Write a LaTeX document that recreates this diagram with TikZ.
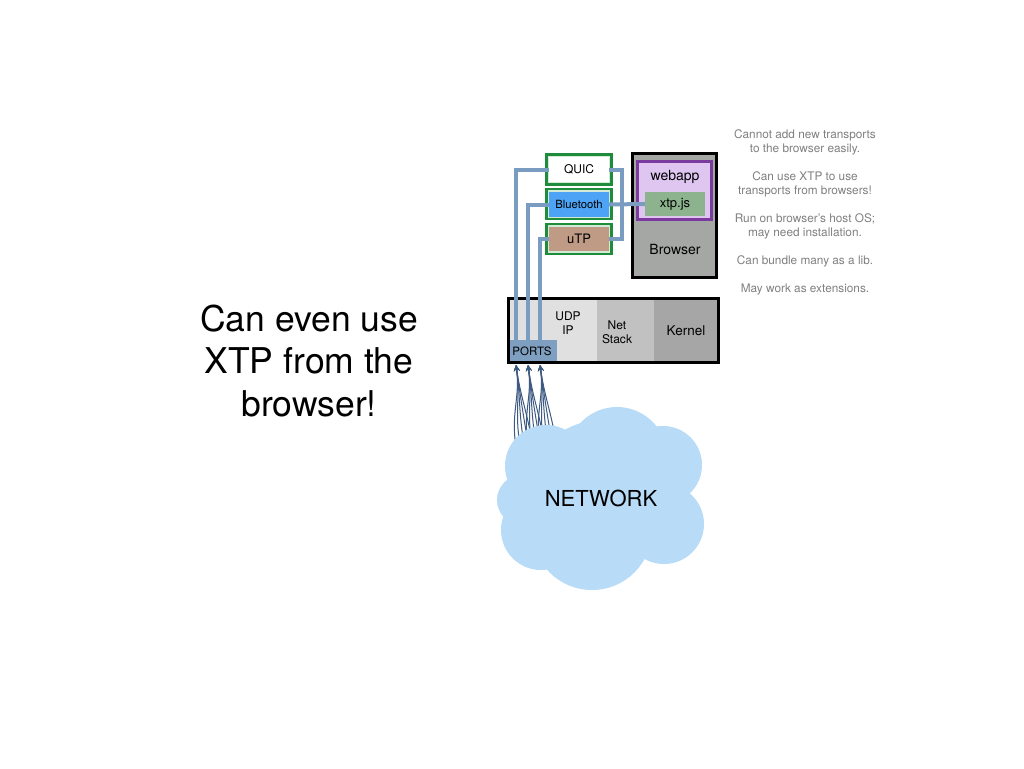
\documentclass[tikz,border=0pt]{standalone}
\usepackage{fontspec}
\setmainfont{TeX Gyre Heros}
\usetikzlibrary{positioning,arrows.meta}

\definecolor{linkblue}{HTML}{7A9CC0}
\definecolor{arrowblue}{HTML}{3D5A82}
\definecolor{tgreen}{HTML}{1E8C3A}
\definecolor{palegreen}{HTML}{D3EBD6}
\definecolor{btblue}{HTML}{4DA3F5}
\definecolor{utpbrown}{HTML}{BF9A84}
\definecolor{browsergray}{HTML}{A5A7A5}
\definecolor{webpurple}{HTML}{7A3A9E}
\definecolor{lightpurple}{HTML}{DFC6F0}
\definecolor{jsgreen}{HTML}{8DB38E}
\definecolor{udpgray}{HTML}{E0E0E0}
\definecolor{stackgray}{HTML}{C1C1C1}
\definecolor{kernelgray}{HTML}{A6A6A6}
\definecolor{portsblue}{HTML}{7F9FC0}
\definecolor{cloudblue}{HTML}{B8DBF7}
\definecolor{notegray}{HTML}{808080}

\begin{document}
\begin{tikzpicture}[x=1pt,y=-1pt]
    \useasboundingbox[fill=white] (0,0) rectangle (1024,768);
    \begin{scope}[outer/.style={draw=tgreen,fill=palegreen,line width=2.5pt,minimum width=65pt,minimum height=30pt,inner sep=0pt},
                  inner/.style={minimum width=60pt,minimum height=25pt,inner sep=0pt},
                  seg/.style={minimum height=64pt,inner sep=0pt},
                  link/.style={draw=linkblue,line width=4pt},
                  net/.style={draw=arrowblue,line width=1pt,-{Stealth[length=6pt,width=6pt]}},
                  sz/.style={font=\fontsize{#1}{#1}\selectfont},
                  lines/.style 2 args={font=\fontsize{#1}{#2}\selectfont, align=center}]
        \node[lines={35.5}{42.5}] (title) at (309, 361) {Can even use\\XTP from the\\browser!};
        \node[lines={11.8}{14}, text=notegray] (notes) at (805, 212.5) {%
            Cannot add new transports\\to the browser easily.\\[14pt]
            Can use XTP to use\\transports from browsers!\\[14pt]
            Run on browser's host OS;\\may need installation.\\[14pt]
            Can bundle many as a lib.\\[14pt]
            May work as extensions.};

        \node[outer] (quicbox) at (579, 169.5) {};
        \node[outer] (btbox) at (579, 204) {};
        \node[outer] (utpbox) at (579, 239) {};
        \node[inner, fill=white, sz=12] (quic) at (579, 169.5) {QUIC};
        \node[inner, fill=btblue, sz=11.3] (bt) at (579, 204.5) {Bluetooth};
        \node[inner, fill=utpbrown, minimum height=24pt, sz=13] (utp) at (579, 239) {uTP};

        \node[draw=black, fill=browsergray, line width=3pt, minimum width=84pt, minimum height=124pt] (browser) at (674.5, 215.5) {};
        \node[draw=webpurple, fill=lightpurple, line width=2.5pt, minimum width=74pt, minimum height=58pt] (webapp) at (674.5, 190.5) {};
        \node[sz=14] (webapptxt) at (675, 177) {webapp};
        \node[inner, fill=jsgreen, minimum height=24pt, sz=13] (xtpjs) at (675, 204) {xtp.js};
        \node[sz=14] (browsertxt) at (675, 249) {Browser};

        \node[seg, fill=udpgray, minimum width=89pt] (udp) at (552.5, 330.5) {};
        \node[seg, fill=stackgray, minimum width=57pt] (stack) at (625.5, 330.5) {};
        \node[seg, fill=kernelgray, minimum width=66pt] (kern) at (687, 330.5) {};
        \node[fill=portsblue, minimum width=50pt, minimum height=23pt, inner sep=0pt, sz=11.5] (ports) at (532, 351.5) {PORTS};
        \node[lines={12}{14}] (udptxt) at (568, 323) {UDP\\IP};
        \node[lines={12}{14}] (stacktxt) at (617, 332) {Net\\Stack};
        \node[sz=13.5] (kerntxt) at (686, 331) {Kernel};
        \node[draw=black, line width=3pt, minimum width=210pt, minimum height=64pt] (kernel) at (613.5, 330.5) {};

        \coordinate (pa) at (516, 340);
        \coordinate (pb) at (528, 340);
        \coordinate (pc) at (540, 340);
        \coordinate (turn) at (622, 204);
        \path[link] (quic.west) -| (pa);
        \path[link] (bt.west) -| (pb);
        \path[link] (utp.west) -| (pc);
        \path[link] (quic.east) -| (turn) |- (utp.east);
        \path[link] (bt.east) -- (xtpjs.west);

        \foreach \p/\x in {a/516,b/528,c/540} {
            \coordinate (t\p) at (\x, 365);
            \foreach \d in {0,4,8,12,16} {
                \coordinate (s\p\d) at (\x+\d, 446-\d*0.3);
                \path[net] (s\p\d) to[out=100, in=-82] (t\p);
            }
        }

        \begin{scope}[fill=cloudblue]
        \fill (617, 457) circle (50);
        \fill (546, 466) circle (41);
        \fill (663, 465) circle (39);
        \fill (522, 500) circle (25);
        \fill (541, 530) circle (40);
        \fill (592, 530) circle (60);
        \fill (664, 524) circle (40);
        \fill (602, 495) circle (75);
        \end{scope}
        \node[sz=22] (network) at (601, 498) {NETWORK};
    \end{scope}
\end{tikzpicture}
\end{document}
